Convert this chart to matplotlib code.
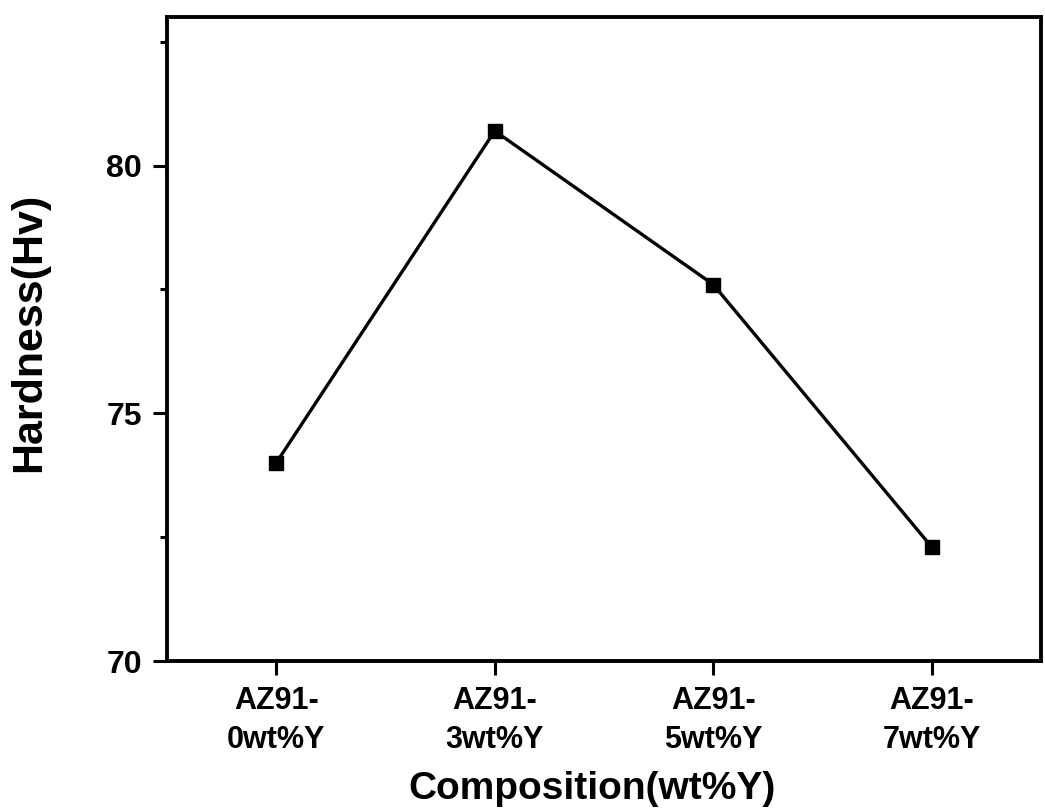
import matplotlib
matplotlib.use('Agg')
from matplotlib import pyplot as plt
from matplotlib.ticker import MultipleLocator

# values
compositions = ['AZ91-\n0wt%Y', 'AZ91-\n3wt%Y', 'AZ91-\n5wt%Y', 'AZ91-\n7wt%Y']
hardness = [74.0, 80.7, 77.6, 72.3]
y_ticks = [70, 75, 80]

plt.rcParams['font.family'] = ['Liberation Sans', 'DejaVu Sans']
plt.rcParams['font.weight'] = 'bold'

fig = plt.figure(figsize=[10.45, 8.09], dpi=100)
ax = fig.add_axes([167 / 1045, 1 - 661 / 809, (1041 - 167) / 1045, (661 - 17) / 809])

x = list(range(len(compositions)))
ax.plot(x, hardness, color='black', linewidth=2.4,
        marker='s', markersize=10.5, markerfacecolor='black', markeredgecolor='black')

ax.set_xlim(-0.5, 3.5)
ax.set_ylim(70, 83)
ax.set_xticks(x)
ax.set_xticklabels(compositions, fontsize=22, fontweight='bold', linespacing=1.4)
ax.set_yticks(y_ticks)
ax.set_yticklabels([str(v) for v in y_ticks], fontsize=23, fontweight='bold')
ax.yaxis.set_minor_locator(MultipleLocator(2.5))

for side in ax.spines.values():
    side.set_linewidth(2.8)
ax.tick_params(axis='both', which='major', direction='out', length=10, width=2.2, pad=8)
ax.tick_params(axis='y', which='minor', direction='out', length=5, width=2.2)

# axis titles placed directly so they sit where the reference has them
fig.text(592 / 1045, 1 - 799 / 809, 'Composition(wt%Y)', fontsize=28, fontweight='bold',
         ha='center', va='baseline')
fig.text(29 / 1045, 1 - 332 / 809, 'Hardness(Hv)', fontsize=31, fontweight='bold',
         rotation=90, ha='center', va='center')

fig.savefig('out.png', dpi=100)
